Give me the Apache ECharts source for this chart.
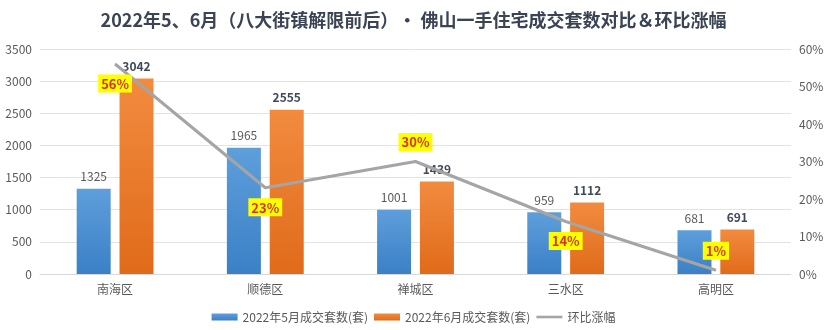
<!DOCTYPE html>
<html><head><meta charset="utf-8">
<script src="https://cdn.jsdelivr.net/npm/echarts@6/dist/echarts.min.js"></script>
<style>html,body{margin:0;padding:0;background:#fff}#c{width:827px;height:330px}</style>
</head><body><div id="c"></div>
<script>
const categories = ['南海区','顺德区','禅城区','三水区','高明区'];
const may = [1325,1965,1001,959,681];
const june = [3042,2555,1439,1112,691];
const mom = [56,23,30,14,1];
const momLabelPos = ['bottom','bottom','top','bottom','top'];

const chart = echarts.init(document.getElementById('c'));
const font = 'Microsoft YaHei, "Noto Sans CJK SC", sans-serif';
chart.setOption({
  animation:false,
  textStyle:{fontFamily:font},
  title:{text:'2022年5、6月（八大街镇解限前后）· 佛山一手住宅成交套数对比＆环比涨幅',left:'center',top:6,
    textStyle:{fontSize:18,fontWeight:'bold',color:'#3a4454',fontFamily:font}},
  legend:{bottom:2,itemWidth:26,itemHeight:7,itemGap:6,textStyle:{color:'#595959',fontSize:12},
    data:[{name:'2022年5月成交套数(套)',icon:'rect'},{name:'2022年6月成交套数(套)',icon:'rect'},{name:'环比涨幅',icon:'path://M0,0 h40 v4 h-40 z',itemStyle:{color:'#a5a5a5'}}]},
  grid:{left:40,right:36,top:49,bottom:56},
  xAxis:{type:'category',data:categories,axisTick:{show:false},
    axisLine:{lineStyle:{color:'#d9d9d9'}},axisLabel:{color:'#595959',fontSize:12,margin:9}},
  yAxis:[
    {type:'value',min:0,max:3500,interval:500,axisLabel:{color:'#595959',fontSize:12,margin:8,formatter:v=>String(v)},
     splitLine:{lineStyle:{color:'#e3e3e3'}},axisLine:{show:false}},
    {type:'value',min:0,max:60,interval:10,axisLabel:{color:'#595959',fontSize:12,formatter:'{value}%',margin:8},
     splitLine:{show:false},axisLine:{show:false}}
  ],
  series:[
    {name:'2022年5月成交套数(套)',type:'bar',data:may,barWidth:34,barGap:'26%',
     itemStyle:{color:new echarts.graphic.LinearGradient(0,0,0,1,[{offset:0,color:'#5e9edb'},{offset:1,color:'#3b80c6'}])},
     label:{show:true,position:'top',color:'#595959',fontSize:12,distance:6}},
    {name:'2022年6月成交套数(套)',type:'bar',data:june,barWidth:34,
     itemStyle:{color:new echarts.graphic.LinearGradient(0,0,0,1,[{offset:0,color:'#f28b3f'},{offset:1,color:'#e06b1a'}])},
     label:{show:true,position:'top',color:'#404a5a',fontSize:12,fontWeight:'bold',distance:6}},
    {name:'环比涨幅',type:'line',yAxisIndex:1,symbol:'circle',symbolSize:1,showSymbol:true,
     data:mom.map((v,i)=>({value:v,label:{position:momLabelPos[i]}})),
     lineStyle:{color:'#a5a5a5',width:3},itemStyle:{color:'#a5a5a5'},
     label:{show:true,formatter:'{c}%',color:'#d9331a',fontWeight:'bold',fontSize:13,
       backgroundColor:'#ffff00',padding:[3,3,2,3],distance:10}}
  ]
});
</script></body></html>
